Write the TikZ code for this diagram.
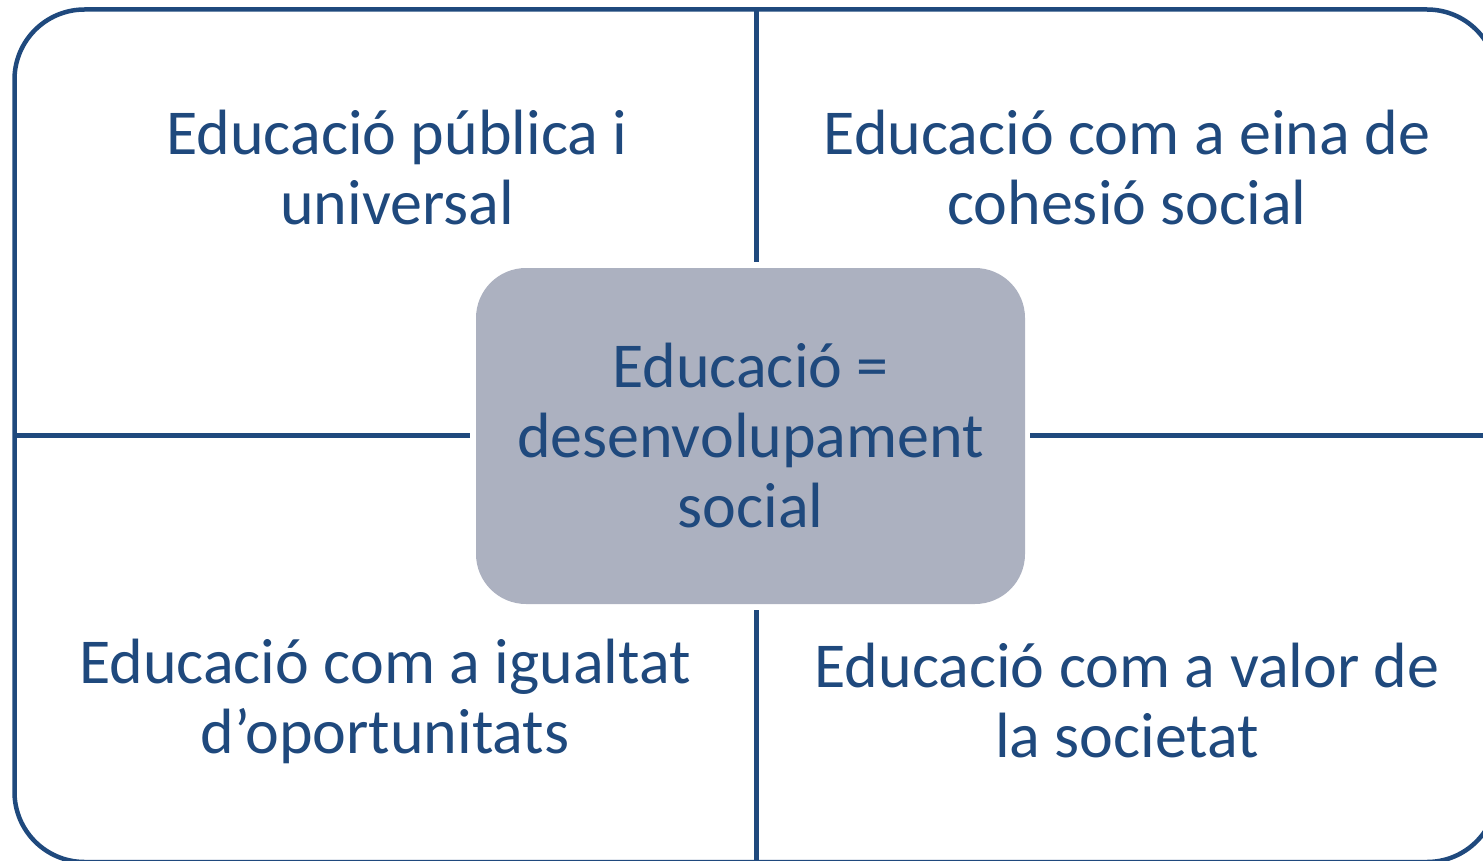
\documentclass[tikz,border=0pt]{standalone}
\usepackage{fontspec}
\setmainfont{Carlito}
\definecolor{navy}{RGB}{31,73,125}
\definecolor{hubgray}{RGB}{172,177,192}
\tikzset{
  rim/.style={draw=navy, line width=5pt},
  label/.style={text=navy, align=center, font=\fontsize{64}{70}\selectfont, inner sep=0pt},
  hub/.style={label, fill=hubgray, rounded corners=50pt, minimum width=549pt, minimum height=336pt}
}
\begin{document}
\begin{tikzpicture}[x=1pt, y=-1pt]
  \useasboundingbox (0,0) rectangle (1483,861);
  \clip (0,0) rectangle (1483,861);
  \draw[rim, line width=4.5pt, rounded corners=70pt] (14.5,9.5) rectangle (1497,862);
  \node[hub] (hub) at (750.5,436) {Educació =\\desenvolupament\\social};
  \node[label] (tl) at (397,168) {Educació pública i\\universal};
  \node[label] (tr) at (1127,168) {Educació com a eina de\\cohesió social};
  \node[label] (bl) at (385,701) {Educació com a igualtat\\d’oportunitats};
  \node[label] (br) at (1127,701) {Educació com a valor de\\la societat};
  \coordinate (n) at (756,9.5);
  \coordinate (s) at (756,862);
  \coordinate (w) at (14.5,435);
  \coordinate (e) at (1497,435);
  \draw[rim, shorten >=6pt] (n) -- (n |- hub.north);
  \draw[rim, shorten >=6pt] (s) -- (s |- hub.south);
  \draw[rim, shorten >=6pt] (w) -- (w -| hub.west);
  \draw[rim, shorten >=5pt] (e) -- (e -| hub.east);
\end{tikzpicture}
\end{document}
